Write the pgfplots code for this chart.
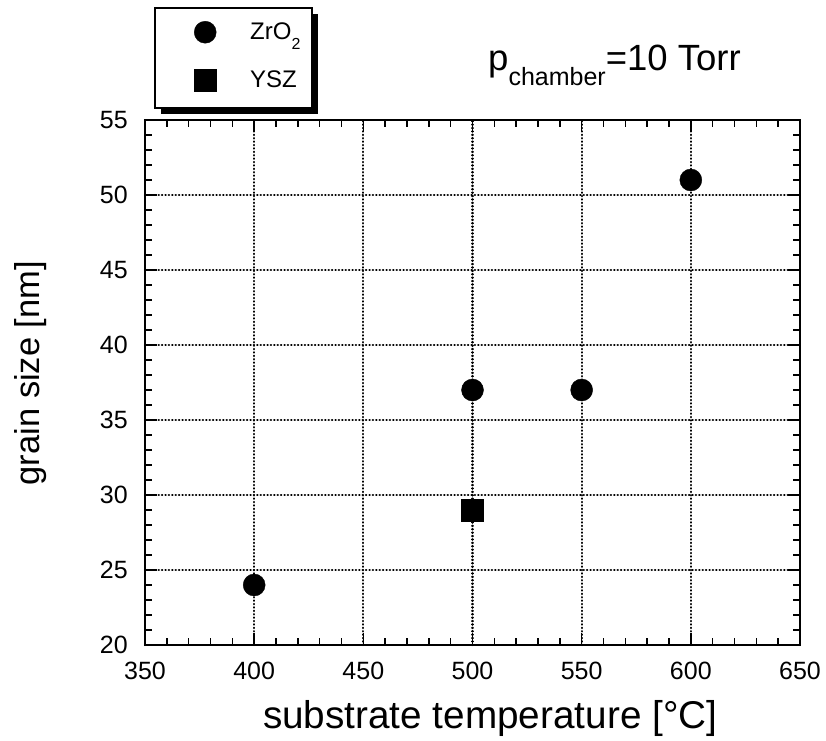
\documentclass[border=0pt]{standalone}
\usepackage{pgfplots}
\pgfplotsset{compat=1.18}
\usepackage{fontspec}
\setmainfont{Liberation Sans}
\begin{document}
\begin{tikzpicture}
% legend frame with its shadow
\fill[black] (16pt,531pt) rectangle (173pt,631pt);
\draw[line width=1.5pt, fill=white] (10pt,537pt) rectangle (167pt,637pt);
\begin{axis}[
  name=ax,
  scale only axis,
  width=655pt, height=525pt,
  at={(0pt,0pt)}, anchor=south west,
  xmin=350, xmax=650, ymin=20, ymax=55,
  xtick={350,400,...,650},
  ytick={20,25,...,55},
  minor x tick num=4,
  minor y tick num=4,
  tick align=inside,
  major tick length=12pt,
  minor tick length=7pt,
  every tick/.style={black, line width=1.5pt},
  axis line style={line width=2.5pt},
  grid=major,
  major grid style={black, line width=2.3pt, line cap=round, dash pattern=on 0.3pt off 3.1pt},
  xticklabel={\fontsize{25}{25}\selectfont\pgfmathprintnumber[assume math mode=true]{\tick}},
  yticklabel={\fontsize{25}{25}\selectfont\pgfmathprintnumber[assume math mode=true]{\tick}},
  xticklabel style={inner sep=0pt, yshift=-17pt},
  yticklabel style={inner sep=0pt, xshift=-17pt},
  xlabel={substrate temperature [°C]},
  ylabel={grain size [nm]},
  xlabel style={font=\fontsize{38.7}{38.7}\selectfont, inner sep=0pt, at={(axis description cs:0.527,-0.1048)}, anchor=north},
  ylabel style={font=\fontsize{34.5}{34.5}\selectfont, inner sep=0pt, at={(axis description cs:-0.1496,0.518)}, anchor=south},
  legend image code/.code={\path[draw=none,fill=none] (0pt,-24pt) rectangle (95pt,24pt); \draw[#1] plot coordinates {(50pt,0pt)};},
  legend cell align=left,
  legend style={at={(axis description cs:0.0153,1.2133)}, anchor=north west,
    draw=none, fill=none, inner sep=0pt,
    row sep=0pt,
    nodes={inner sep=0pt},
    font=\fontsize{24}{24}\selectfont},
]
\addplot[only marks, mark=*, mark size=11pt, black] coordinates {
  (400,24) (500,37) (550,37) (600,51)
};
\addlegendentry{\makebox[52pt][l]{ZrO\raisebox{-0.4em}{\fontsize{16}{16}\selectfont 2}}}
\addplot[only marks, mark=square*, mark size=11pt, black] coordinates {
  (500,29)
};
\addlegendentry{\makebox[52pt][l]{YSZ}}
\end{axis}
\node[anchor=base west, inner sep=0pt, font=\fontsize{36.5}{36.5}\selectfont] at (343pt,574pt) {p\raisebox{-15pt}{\fontsize{25}{25}\selectfont chamber}=10 Torr};
\pgfresetboundingbox
\path (-145pt,-95pt) rectangle (681pt,645pt);
\end{tikzpicture}
\end{document}
